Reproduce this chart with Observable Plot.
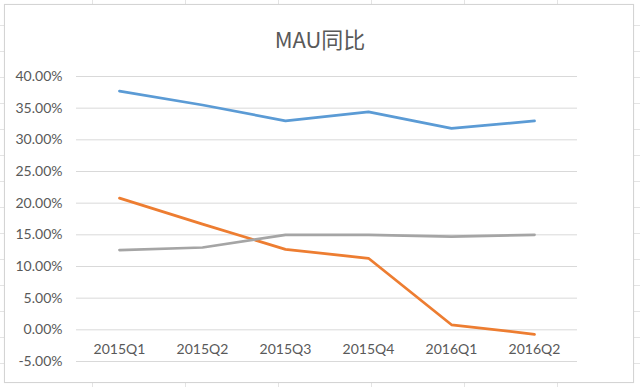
<!DOCTYPE html>
<html>
<head>
<meta charset="utf-8">
<script src="https://cdn.jsdelivr.net/npm/d3@7"></script>
<script src="https://cdn.jsdelivr.net/npm/@observablehq/plot@0.6"></script>
<style>
  html, body { margin: 0; padding: 0; }
  body {
    width: 640px; height: 387px; position: relative; overflow: hidden;
    background-color: #ffffff;
    background-image:
      repeating-linear-gradient(to bottom, transparent 0, transparent 25px, #e4e4e4 25px, #e4e4e4 26px),
      repeating-linear-gradient(to right, transparent 0, transparent 92px, #e4e4e4 92px, #e4e4e4 93px);
  }
  #box {
    position: absolute; left: 4px; top: 4px; width: 628px; height: 377px;
    background: #fff; border: 1px solid #d4d4d4;
    box-shadow: 0 0 1px rgba(0,0,0,0.08);
  }
  #title {
    position: absolute; left: 0; top: 24px; width: 640px; text-align: center;
    font-family: "Noto Sans CJK SC", "Open Sans", sans-serif; font-size: 22px;
    color: #595959; line-height: 28px;
  }
  #chart { position: absolute; left: 0; top: 0; }
  #chart svg { background: transparent !important; }
</style>
</head>
<body>
<div id="box"></div>
<div id="chart"></div>
<div id="title">MAU同比</div>
<script>
const quarters = ["2015Q1", "2015Q2", "2015Q3", "2015Q4", "2016Q1", "2016Q2"];
const seriesA = [37.7, 35.5, 33.0, 34.4, 31.8, 33.0];
const seriesB = [20.8, 16.7, 12.7, 11.3, 0.8, -0.7];
const seriesC = [12.6, 13.0, 15.0, 15.0, 14.7, 15.0];
const seriesNames = ["系列1", "系列2", "系列3"];
const seriesColors = ["#5b9bd5", "#ed7d31", "#a5a5a5"];
const yTicks = [-5, 0, 5, 10, 15, 20, 25, 30, 35, 40];

const rows = [];
quarters.forEach((q, i) => {
  rows.push({q, v: seriesA[i], s: seriesNames[0]});
  rows.push({q, v: seriesB[i], s: seriesNames[1]});
  rows.push({q, v: seriesC[i], s: seriesNames[2]});
});

const chart = Plot.plot({
  width: 640,
  height: 387,
  marginTop: 76,
  marginBottom: 26,
  marginLeft: 76,
  marginRight: 63,
  style: {fontFamily: "Lato, 'Open Sans', sans-serif", fontSize: "14px", color: "#595959", background: "transparent"},
  x: {type: "point", domain: quarters, padding: 0.5, axis: null},
  y: {domain: [-5, 40], axis: null},
  color: {domain: seriesNames, range: seriesColors},
  marks: [
    Plot.ruleY(yTicks, {stroke: "#d9d9d9", strokeWidth: 1}),
    Plot.axisY({ticks: yTicks, label: null, tickSize: 0, tickPadding: 14, tickFormat: d => d.toFixed(2) + "%", fontSize: 14, fill: "#595959"}),
    Plot.text(quarters, {x: d => d, y: () => 0, dy: 20, fill: "#595959", fontSize: 14}),
    Plot.line(rows, {x: "q", y: "v", z: "s", stroke: "s", strokeWidth: 2.75, strokeLinejoin: "round", strokeLinecap: "round"})
  ]
});
document.getElementById("chart").appendChild(chart);
</script>
</body>
</html>
